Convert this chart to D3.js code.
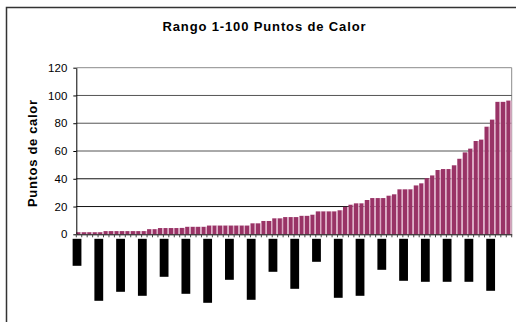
<!DOCTYPE html>
<html>
<head>
<meta charset="utf-8">
<script src="https://cdn.jsdelivr.net/npm/d3@7"></script>
<style>
  html, body { margin: 0; padding: 0; background: #fff; }
  svg { display: block; }
  text { font-family: "Liberation Sans", Arial, sans-serif; }
</style>
</head>
<body>
<svg id="chart" width="516" height="322"></svg>
<script>
// Heat points per station, sorted ascending (80 categories)
const categories = d3.range(1, 81).map(String);
const heatPoints = [
  1.5, 1.5, 1.5, 1.5, 1.5,
  2.3, 2.3, 2.3, 2.3, 2.3, 2.3, 2.3, 2.3,
  3.7, 3.7,
  4.5, 4.5, 4.5, 4.5, 4.6,
  5.4, 5.4, 5.4, 5.4,
  6.3, 6.3, 6.3, 6.3, 6.3, 6.3, 6.3, 6.3,
  7.9, 7.9,
  9.6, 9.6,
  11.5, 11.5,
  12.4, 12.4, 12.4,
  13.3, 13.3,
  14.1,
  16.5, 16.5, 16.5, 16.5,
  17.3,
  19.8,
  21.3,
  22.3, 22.3,
  24.7,
  26.1, 26.1, 26.1,
  27.8,
  28.8,
  32.4, 32.4, 32.4,
  35.2,
  36.7,
  40.4,
  42.4,
  46.3,
  47.0, 47.0,
  49.7,
  54.4,
  59.0,
  61.7,
  67.2,
  68.2,
  77.5,
  82.6,
  95.4, 95.4,
  96.3
];
const yTicks = [0, 20, 40, 60, 80, 100, 120];
// Category labels are shown every fourth station; their rendered lengths (px)
const labelEvery = 4;
const labelLengths = [27, 62, 53, 57, 38, 55, 64, 41, 61, 33, 50, 23, 59, 57, 31, 42, 43, 43, 43, 52];

const titleText = "Rango 1-100 Puntos de Calor";
const yTitle = "Puntos de calor";

const svg = d3.select("#chart");

// outer chart frame
svg.append("rect")
  .attr("x", 6.5).attr("y", 7.5)
  .attr("width", 540).attr("height", 340)
  .attr("fill", "#fff")
  .attr("stroke", "#333").attr("stroke-width", 1.5);

const plot = { left: 76.3, right: 511.7, top: 67.7, bottom: 234.3 };

const x = d3.scaleBand()
  .domain(categories)
  .range([plot.left, plot.right])
  .padding(0);

const y = d3.scaleLinear()
  .domain([0, 120])
  .range([plot.bottom, plot.top]);

// title
svg.append("text")
  .attr("x", 264).attr("y", 30.5)
  .attr("text-anchor", "middle")
  .attr("font-size", 13).attr("font-weight", "bold")
  .attr("textLength", 203).attr("lengthAdjust", "spacing")
  .attr("fill", "#000")
  .text(titleText);

// plot frame (top/right in gray)
svg.append("path")
  .attr("d", `M${plot.left},${y(120)}H${plot.right}V${plot.bottom}`)
  .attr("fill", "none").attr("stroke", "#8c8c8c").attr("stroke-width", 1);

// gridlines
svg.append("g")
  .selectAll("line")
  .data(yTicks.filter(d => d > 0 && d < 120))
  .join("line")
  .attr("x1", plot.left).attr("x2", plot.right)
  .attr("y1", d => y(d)).attr("y2", d => y(d))
  .attr("stroke", d => d >= 60 ? "#555" : "#111").attr("stroke-width", 1);

// bars
const step = x.step();
const bars = svg.append("g");
bars.selectAll("rect.body")
  .data(heatPoints)
  .join("rect")
  .attr("class", "body")
  .attr("x", (d, i) => x(categories[i]))
  .attr("y", d => y(d))
  .attr("width", step - 1.2)
  .attr("height", d => y(0) - y(d))
  .attr("fill", "#993366");
bars.selectAll("rect.edge")
  .data(heatPoints)
  .join("rect")
  .attr("class", "edge")
  .attr("x", (d, i) => x(categories[i]) + step - 1.2)
  .attr("y", d => y(d))
  .attr("width", 1.2)
  .attr("height", d => y(0) - y(d))
  .attr("fill", "#dcaac4");

// y axis
const yAxis = d3.axisLeft(y)
  .tickValues(yTicks)
  .tickSize(3)
  .tickPadding(6)
  .tickSizeOuter(0);
const gy = svg.append("g")
  .attr("transform", `translate(${plot.left},0)`)
  .call(yAxis);
gy.select(".domain").attr("stroke", "#000");
gy.selectAll(".tick line").attr("stroke", "#000");
gy.selectAll(".tick text")
  .attr("font-family", "Liberation Sans, Arial, sans-serif")
  .attr("font-size", 11.5).attr("fill", "#000");

// x axis with ticks between categories
const xAxis = d3.axisBottom(x).tickSize(0).tickFormat("");
const gx = svg.append("g")
  .attr("transform", `translate(0,${plot.bottom})`)
  .call(xAxis);
gx.select(".domain").attr("stroke", "#000");
gx.append("g")
  .selectAll("line")
  .data(d3.range(categories.length + 1))
  .join("line")
  .attr("x1", i => plot.left + i * step)
  .attr("x2", i => plot.left + i * step)
  .attr("y1", 0).attr("y2", 3)
  .attr("stroke", "#444").attr("stroke-width", 1);

// category label blocks below the axis
svg.append("g")
  .selectAll("rect")
  .data(labelLengths)
  .join("rect")
  .attr("x", (d, i) => x(categories[i * labelEvery]) + step / 2 - 2 - 4.4)
  .attr("y", 238.8)
  .attr("width", 8.8)
  .attr("height", d => d)
  .attr("fill", "#000");

// y title
svg.append("text")
  .attr("transform", `translate(36.5,${153.5}) rotate(-90)`)
  .attr("text-anchor", "middle")
  .attr("font-size", 13).attr("font-weight", "bold")
  .attr("textLength", 107).attr("lengthAdjust", "spacing")
  .attr("fill", "#000")
  .text(yTitle);
</script>
</body>
</html>
